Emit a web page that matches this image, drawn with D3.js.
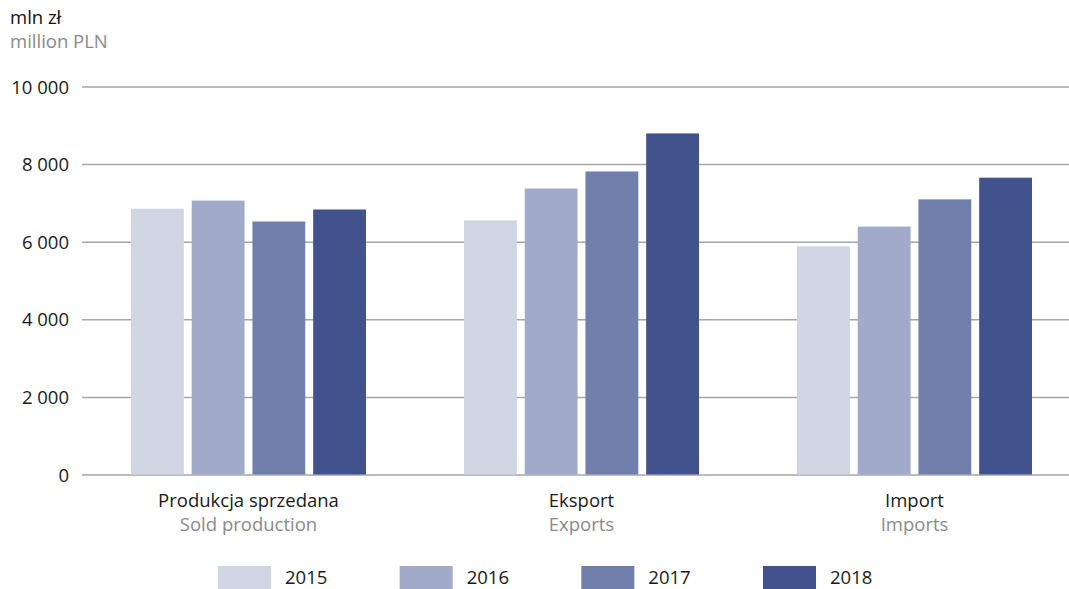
<!DOCTYPE html>
<html><head><meta charset="utf-8">
<script src="https://cdn.jsdelivr.net/npm/d3@7"></script>
<style>body{margin:0;background:#fff;} svg{display:block;font-family:"Open Sans",sans-serif;}</style>
</head><body><svg id="c" width="1069" height="589"></svg>
<script>
const categories = ["Produkcja sprzedana","Eksport","Import"];
const categoriesEn = ["Sold production","Exports","Imports"];
const years = ["2015","2016","2017","2018"];
const v2015 = [6850, 6550, 5880];
const v2016 = [7060, 7370, 6390];
const v2017 = [6520, 7810, 7090];
const v2018 = [6830, 8790, 7650];
const yTicks = [0,2000,4000,6000,8000,10000];
const colors = ["#cfd5e3","#a1aac8","#707fab","#41528c"];
const series = [v2015,v2016,v2017,v2018];

const FS = 18.5;
const svg = d3.select("#c");
const y = d3.scaleLinear().domain([0,10000]).range([474.5,86.5]);
const x0 = d3.scaleBand().domain(categories).range([82,1081]);
const x1 = d3.scaleBand().domain(years).range([-117.5,117.5]).paddingInner(0.13);
const fmt = v => d3.format(",")(v).replace(/,/g," ");

// grid
const yAxis = d3.axisLeft(y).tickValues(yTicks).tickSize(-(1069-82)).tickFormat(fmt).tickPadding(13);
const ga = svg.append("g").attr("transform","translate(82,0)").call(yAxis);
ga.select(".domain").remove();
ga.selectAll(".tick line").attr("stroke","#a6a6a6").attr("stroke-width",1.5);
ga.selectAll(".tick text").attr("font-size",FS).attr("fill","#1a1a1a").attr("font-family","Open Sans").attr("dy","0.36em");

// bars
categories.forEach((c,ci)=>{
  const g = svg.append("g").attr("transform",`translate(${x0(c)+x0.bandwidth()/2},0)`);
  g.selectAll("rect").data(years).join("rect")
    .attr("x",yr=>x1(yr)).attr("width",x1.bandwidth())
    .attr("y",(yr,i)=>y(series[i][ci]))
    .attr("height",(yr,i)=>y(0)-y(series[i][ci]))
    .attr("fill",(yr,i)=>colors[i]);
});

// category labels
categories.forEach((c,ci)=>{
  const cx = x0(c)+x0.bandwidth()/2;
  svg.append("text").attr("x",cx).attr("y",507).attr("text-anchor","middle")
    .attr("font-size",FS).attr("fill","#1a1a1a").text(c);
  svg.append("text").attr("x",cx).attr("y",531).attr("text-anchor","middle")
    .attr("font-size",FS).attr("fill","#8a8a8a").text(categoriesEn[ci]);
});

// title
svg.append("text").attr("x",10).attr("y",24).attr("font-size",FS).attr("font-weight",500).attr("fill","#111").text("mln zł");
svg.append("text").attr("x",10).attr("y",48).attr("font-size",FS).attr("fill","#8a8a8a").text("million PLN");

// legend
const lx = d3.scalePoint().domain(years).range([218,763]);
years.forEach((yr,i)=>{
  svg.append("rect").attr("x",lx(yr)).attr("y",566).attr("width",53).attr("height",24).attr("fill",colors[i]);
  svg.append("text").attr("x",lx(yr)+67).attr("y",584).attr("font-size",FS).attr("fill","#1a1a1a").text(yr);
});
</script></body></html>
